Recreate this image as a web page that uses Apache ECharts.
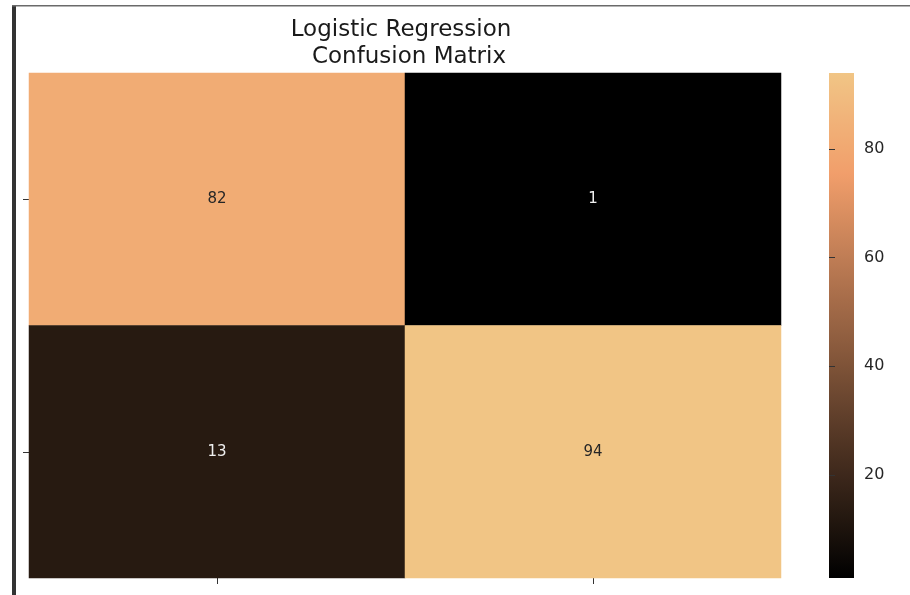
<!DOCTYPE html>
<html>
<head>
<meta charset="utf-8">
<style>
  html, body { margin: 0; padding: 0; background: #ffffff; }
  #chart { width: 910px; height: 595px; }
</style>
<script src="https://cdn.jsdelivr.net/npm/echarts@6/dist/echarts.min.js"></script>
</head>
<body>
<div id="chart"></div>
<script>
// Confusion matrix of the logistic regression classifier
const predictedLabels = ['0', '1'];
const actualLabels = ['0', '1'];
const rowActual0 = [82, 1];
const rowActual1 = [13, 94];
const colorbarTicks = [20, 40, 60, 80];
const colorMin = 1;
const colorMax = 94;

const rows = [rowActual0, rowActual1];

// Copper colormap (slightly muted)
function copper(t) {
  const r = Math.min(1, 1.25 * t) * 0.945;
  const g = 0.7812 * t * 0.99;
  const b = 0.4975 * t * 1.05;
  const h = v => Math.round(Math.min(1, v) * 255).toString(16).padStart(2, '0');
  return '#' + h(r) + h(g) + h(b);
}
const copperStops = [];
for (let i = 0; i <= 20; i++) copperStops.push(copper(i / 20));

const FONT = '"DejaVu Sans", sans-serif';

const cells = [];
rows.forEach((row, yi) => {
  row.forEach((v, xi) => {
    const t = (v - colorMin) / (colorMax - colorMin);
    cells.push({
      value: [xi, yi, v],
      label: { color: t > 0.5 ? '#262626' : '#f0f0f0' }
    });
  });
});

// Colorbar gradient, dark at the bottom, light at the top
const CB = { x: 829, y: 73, w: 25, h: 505 };
const cbGradient = new echarts.graphic.LinearGradient(0, 1, 0, 0,
  copperStops.map((c, i) => ({ offset: i / (copperStops.length - 1), color: c })));

const chart = echarts.init(document.getElementById('chart'));
chart.setOption({
  backgroundColor: '#ffffff',
  animation: false,
  title: [
    {
      text: 'Logistic Regression',
      left: 396, top: 14, textAlign: 'center',
      textStyle: { fontFamily: FONT, fontSize: 23, fontWeight: 'normal', color: '#1a1a1a' }
    },
    {
      text: 'Confusion Matrix',
      left: 404, top: 41, textAlign: 'center',
      textStyle: { fontFamily: FONT, fontSize: 23, fontWeight: 'normal', color: '#1a1a1a' }
    }
  ],
  grid: [
    { left: 29, top: 73, width: 752, height: 505 },
    { left: CB.x, top: CB.y, width: CB.w, height: CB.h }
  ],
  xAxis: [
    {
      gridIndex: 0, type: 'category', data: predictedLabels, position: 'bottom',
      axisLine: { show: false },
      axisTick: { show: true, alignWithLabel: true, length: 6, lineStyle: { color: '#333' } },
      axisLabel: { show: false },
      splitLine: { show: false }
    },
    { gridIndex: 1, type: 'value', show: false }
  ],
  yAxis: [
    {
      gridIndex: 0, type: 'category', data: actualLabels, inverse: true,
      axisLine: { show: false },
      axisTick: { show: true, alignWithLabel: true, length: 6, lineStyle: { color: '#333' } },
      axisLabel: { show: false },
      splitLine: { show: false }
    },
    {
      gridIndex: 1, type: 'value', min: colorMin, max: colorMax, position: 'right',
      axisLine: { show: false },
      splitLine: { show: false },
      axisTick: { show: true, length: 6, customValues: colorbarTicks, lineStyle: { color: '#333' } },
      axisLabel: {
        show: true, customValues: colorbarTicks, margin: 10,
        fontFamily: FONT, fontSize: 16, color: '#262626'
      }
    }
  ],
  visualMap: {
    type: 'continuous',
    show: false,
    seriesIndex: 0,
    min: colorMin, max: colorMax,
    inRange: { color: copperStops }
  },
  series: [
    {
      type: 'heatmap',
      xAxisIndex: 0, yAxisIndex: 0,
      data: cells,
      label: { show: true, fontFamily: FONT, fontSize: 15 },
      emphasis: { disabled: true }
    }
  ],
  graphic: [
    { type: 'rect', shape: { x: CB.x, y: CB.y, width: CB.w, height: CB.h }, style: { fill: cbGradient }, silent: true, z: -1 },
    { type: 'rect', shape: { x: 12, y: 5, width: 4, height: 590 }, style: { fill: '#333333' }, silent: true },
    { type: 'rect', shape: { x: 12, y: 5, width: 898, height: 1.5 }, style: { fill: '#6a6a6a' }, silent: true }
  ]
});
</script>
</body>
</html>
